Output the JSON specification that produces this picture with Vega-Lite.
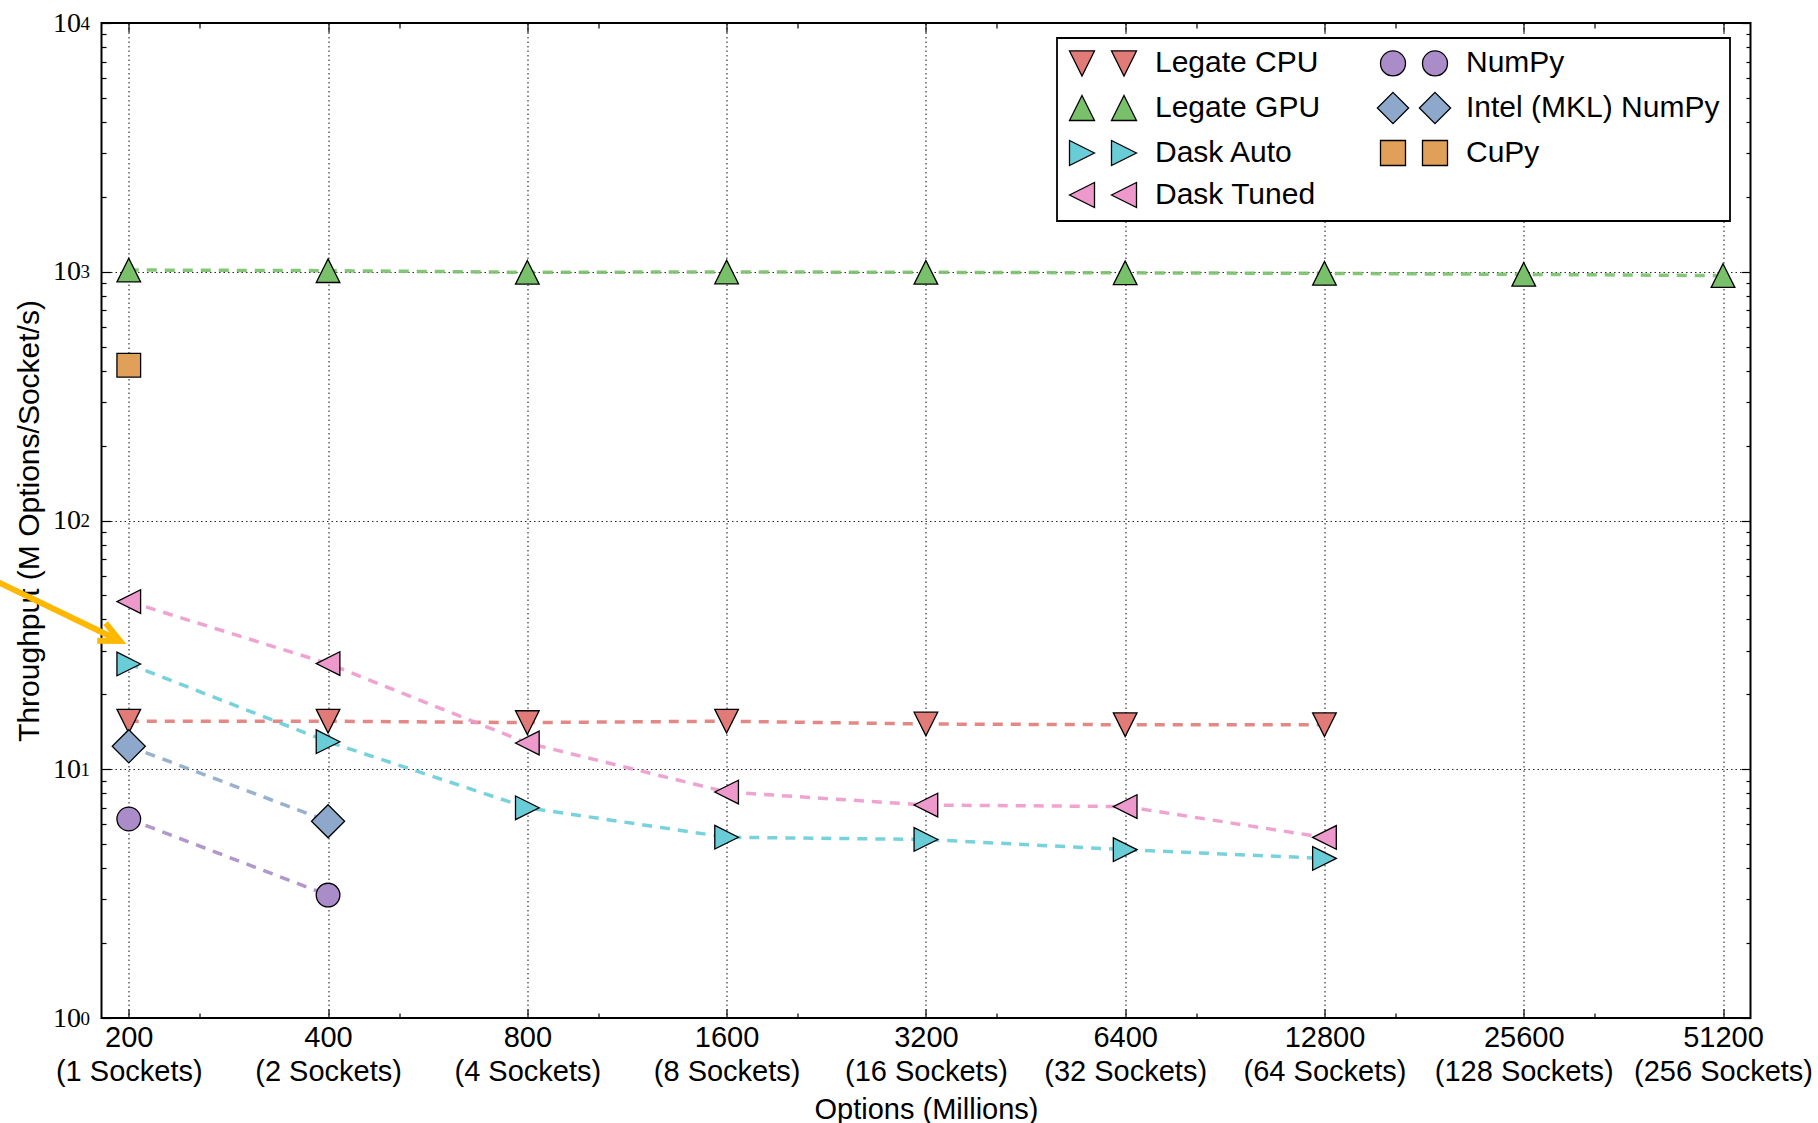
{
  "$schema": "https://vega.github.io/schema/vega-lite/v6.json",
  "width": 1649,
  "height": 995,
  "autosize": {"type": "none"},
  "padding": {"left": 101.5, "top": 23, "right": 67.5, "bottom": 105},
  "background": "white",
  "config": {
    "font": "Liberation Sans",
    "view": {"stroke": "black", "strokeWidth": 2},
    "axis": {
      "domain": false,
      "tickColor": "black",
      "tickWidth": 1.2,
      "gridColor": "black",
      "gridDash": [1.5, 3],
      "gridWidth": 1.1,
      "gridOpacity": 0.85,
      "labelColor": "black",
      "titleColor": "black",
      "labelFlush": false,
      "labelOverlap": false,
      "labelBound": false
    }
  },
  "datasets": {
    "main": [
      {"series": "Legate CPU", "options": 200, "throughput": 15.6},
      {"series": "Legate CPU", "options": 400, "throughput": 15.6},
      {"series": "Legate CPU", "options": 800, "throughput": 15.4},
      {"series": "Legate CPU", "options": 1600, "throughput": 15.6},
      {"series": "Legate CPU", "options": 3200, "throughput": 15.2},
      {"series": "Legate CPU", "options": 6400, "throughput": 15.1},
      {"series": "Legate CPU", "options": 12800, "throughput": 15.1},
      {"series": "Legate GPU", "options": 200, "throughput": 1016},
      {"series": "Legate GPU", "options": 400, "throughput": 1010},
      {"series": "Legate GPU", "options": 800, "throughput": 995},
      {"series": "Legate GPU", "options": 1600, "throughput": 998},
      {"series": "Legate GPU", "options": 3200, "throughput": 995},
      {"series": "Legate GPU", "options": 6400, "throughput": 990},
      {"series": "Legate GPU", "options": 12800, "throughput": 985},
      {"series": "Legate GPU", "options": 25600, "throughput": 976},
      {"series": "Legate GPU", "options": 51200, "throughput": 965},
      {"series": "Dask Auto", "options": 200, "throughput": 26.5},
      {"series": "Dask Auto", "options": 400, "throughput": 12.9},
      {"series": "Dask Auto", "options": 800, "throughput": 7.0},
      {"series": "Dask Auto", "options": 1600, "throughput": 5.33},
      {"series": "Dask Auto", "options": 3200, "throughput": 5.22},
      {"series": "Dask Auto", "options": 6400, "throughput": 4.75},
      {"series": "Dask Auto", "options": 12800, "throughput": 4.38},
      {"series": "Dask Tuned", "options": 200, "throughput": 47.2},
      {"series": "Dask Tuned", "options": 400, "throughput": 26.6},
      {"series": "Dask Tuned", "options": 800, "throughput": 12.75},
      {"series": "Dask Tuned", "options": 1600, "throughput": 8.1},
      {"series": "Dask Tuned", "options": 3200, "throughput": 7.18},
      {"series": "Dask Tuned", "options": 6400, "throughput": 7.08},
      {"series": "Dask Tuned", "options": 12800, "throughput": 5.32},
      {"series": "NumPy", "options": 200, "throughput": 6.31},
      {"series": "NumPy", "options": 400, "throughput": 3.12},
      {"series": "Intel (MKL) NumPy", "options": 200, "throughput": 12.37},
      {"series": "Intel (MKL) NumPy", "options": 400, "throughput": 6.18},
      {"series": "CuPy", "options": 200, "throughput": 421}
    ],
    "arrow": [
      {"x": 123.3, "y": 58.7, "x2": 194, "y2": 32.8}
    ]
  },
  "resolve": {"axis": {"x": "independent", "y": "independent"}},
  "layer": [
    {
      "data": {"name": "main"},
      "mark": {"type": "line", "strokeDash": [10, 8], "strokeWidth": 3.5, "opacity": 0.9},
      "encoding": {
        "x": {
          "field": "options", "type": "quantitative",
          "scale": {"type": "log", "domain": [181.9, 56336], "nice": false},
          "axis": {
            "orient": "bottom",
            "values": [200, 400, 800, 1600, 3200, 6400, 12800, 25600, 51200],
            "labelExpr": "[format(datum.value, 'd'), '(' + format(datum.value / 200, 'd') + ' Sockets)']",
            "labelFontSize": 29,
            "labelLineHeight": 34,
            "labelPadding": 5,
            "ticks": false,
            "grid": true,
            "title": "Options (Millions)",
            "titleFontSize": 29,
            "titleFontWeight": "normal",
            "titlePadding": 9
          }
        },
        "y": {
          "field": "throughput", "type": "quantitative",
          "scale": {"type": "log", "domain": [1, 10000], "nice": false},
          "axis": {
            "orient": "left",
            "values": [1, 10, 100, 1000, 10000],
            "labelExpr": "'10'",
            "labelFont": "Liberation Serif",
            "labelFontSize": 28,
            "labelPadding": 21,
            "ticks": false,
            "grid": true,
            "title": "Throughput (M Options/Socket/s)",
            "titleFontSize": 30,
            "titleFontWeight": "normal",
            "titlePadding": 8
          }
        },
        "stroke": {
          "field": "series", "type": "nominal",
          "scale": {
            "domain": ["Legate CPU", "NumPy", "Legate GPU", "Intel (MKL) NumPy", "Dask Auto", "CuPy", "Dask Tuned"],
            "range": ["#E17B78", "#AA8CC8", "#78C069", "#8DA8CA", "#69CDD8", "#E0A05A", "#ED99CB"]
          },
          "legend": null
        }
      }
    },
    {
      "data": {"name": "main"},
      "mark": {"type": "point", "filled": true, "stroke": "black", "strokeWidth": 1.3, "size": 560, "opacity": 1},
      "encoding": {
        "x": {
          "field": "options", "type": "quantitative",
          "scale": {"type": "log", "domain": [181.9, 56336], "nice": false},
          "axis": {
            "orient": "bottom",
            "values": [200, 400, 800, 1600, 3200, 6400, 12800, 25600, 51200],
            "labels": false, "grid": false, "ticks": true, "tickSize": -9, "title": null
          }
        },
        "y": {
          "field": "throughput", "type": "quantitative",
          "scale": {"type": "log", "domain": [1, 10000], "nice": false},
          "axis": {
            "orient": "left",
            "values": [1, 10, 100, 1000, 10000],
            "labelExpr": "'' + round(log(datum.value) / LN10)",
            "labelFont": "Liberation Serif",
            "labelFontSize": 19,
            "labelPadding": 12,
            "labelDy": -10,
            "ticks": false, "grid": false, "title": null
          }
        },
        "color": {
          "field": "series", "type": "nominal",
          "scale": {
            "domain": ["Legate CPU", "Legate GPU", "Dask Auto", "Dask Tuned", "NumPy", "Intel (MKL) NumPy", "CuPy"],
            "range": ["#E17B78", "#78C069", "#69CDD8", "#ED99CB", "#AA8CC8", "#8DA8CA", "#E0A05A"]
          },
          "legend": {
            "orient": "none",
            "legendX": 955.5,
            "legendY": 15,
            "direction": "vertical",
            "columns": 2,
            "title": null,
            "strokeColor": "black",
            "fillColor": "white",
            "padding": 10,
            "labelFont": "Liberation Sans",
            "labelFontSize": 30,
            "labelColor": "black",
            "labelLimit": 500,
            "symbolSize": 625,
            "symbolStrokeColor": "black",
            "symbolStrokeWidth": 1.3,
            "labelOffset": 58,
            "rowPadding": 10,
            "columnPadding": 53,
            "encoding": {
              "legend": {
                "strokeWidth": {"value": 1.8}
              },
              "symbols": {
                "shape": {"value": {"expr": "datum.value === 'Legate CPU' ? 'M-1,-1L1,-1L0,1Z M2.36,-1L4.36,-1L3.36,1Z' : datum.value === 'Legate GPU' ? 'M0,-1L1,1L-1,1Z M3.36,-1L4.36,1L2.36,1Z' : datum.value === 'Dask Auto' ? 'M1,0L-1,-1L-1,1Z M4.36,0L2.36,-1L2.36,1Z' : datum.value === 'Dask Tuned' ? 'M-1,0L1,-1L1,1Z M2.36,0L4.36,-1L4.36,1Z' : datum.value === 'NumPy' ? 'M1,0A1,1 0 1,1 -1,0A1,1 0 1,1 1,0Z M4.36,0A1,1 0 1,1 2.36,0A1,1 0 1,1 4.36,0Z' : datum.value === 'Intel (MKL) NumPy' ? 'M0,-1.25L1.25,0L0,1.25L-1.25,0Z M3.36,-1.25L4.61,0L3.36,1.25L2.11,0Z' : 'M-1,-1H1V1H-1Z M2.36,-1H4.36V1H2.36Z'"}},
                "size": {"value": 625},
                "stroke": {"value": "black"},
                "strokeWidth": {"value": 1.3}
              }
            }
          }
        },
        "shape": {
          "field": "series", "type": "nominal",
          "scale": {
            "domain": ["Legate CPU", "NumPy", "Legate GPU", "Intel (MKL) NumPy", "Dask Auto", "CuPy", "Dask Tuned"],
            "range": ["M-1,-1L1,-1L0,1Z", "circle", "M0,-1L1,1L-1,1Z", "M0,-1.4L1.4,0L0,1.4L-1.4,0Z", "M1,0L-1,-1L-1,1Z", "square", "M-1,0L1,-1L1,1Z"]
          },
          "legend": null
        }
      }
    },
    {
      "data": {"name": "main"},
      "mark": {"type": "point", "opacity": 0},
      "encoding": {
        "x": {
          "field": "options", "type": "quantitative",
          "scale": {"type": "log", "domain": [181.9, 56336], "nice": false},
          "axis": {
            "orient": "bottom",
            "values": [256, 512, 1024, 2048, 4096, 8192, 16384, 32768],
            "labels": false, "grid": false, "ticks": true, "tickSize": -5, "title": null
          }
        },
        "y": {
          "field": "throughput", "type": "quantitative",
          "scale": {"type": "log", "domain": [1, 10000], "nice": false},
          "axis": {
            "orient": "left",
            "values": [1, 10, 100, 1000, 10000],
            "labels": false, "grid": false, "ticks": true, "tickSize": -9, "title": null
          }
        }
      }
    },
    {
      "data": {"name": "main"},
      "mark": {"type": "point", "opacity": 0},
      "encoding": {
        "x": {
          "field": "options", "type": "quantitative",
          "scale": {"type": "log", "domain": [181.9, 56336], "nice": false},
          "axis": {
            "orient": "top",
            "values": [200, 400, 800, 1600, 3200, 6400, 12800, 25600, 51200],
            "labels": false, "grid": false, "ticks": true, "tickSize": -9, "title": null
          }
        },
        "y": {
          "field": "throughput", "type": "quantitative",
          "scale": {"type": "log", "domain": [1, 10000], "nice": false},
          "axis": {
            "orient": "left",
            "values": [2, 3, 4, 5, 6, 7, 8, 9, 20, 30, 40, 50, 60, 70, 80, 90, 200, 300, 400, 500, 600, 700, 800, 900, 2000, 3000, 4000, 5000, 6000, 7000, 8000, 9000],
            "labels": false, "grid": false, "ticks": true, "tickSize": -4.5, "title": null
          }
        }
      }
    },
    {
      "data": {"name": "main"},
      "mark": {"type": "point", "opacity": 0},
      "encoding": {
        "x": {
          "field": "options", "type": "quantitative",
          "scale": {"type": "log", "domain": [181.9, 56336], "nice": false},
          "axis": {
            "orient": "top",
            "values": [256, 512, 1024, 2048, 4096, 8192, 16384, 32768],
            "labels": false, "grid": false, "ticks": true, "tickSize": -5, "title": null
          }
        },
        "y": {
          "field": "throughput", "type": "quantitative",
          "scale": {"type": "log", "domain": [1, 10000], "nice": false},
          "axis": {
            "orient": "right",
            "values": [1, 10, 100, 1000, 10000],
            "labels": false, "grid": false, "ticks": true, "tickSize": -9, "title": null
          }
        }
      }
    },
    {
      "data": {"name": "main"},
      "mark": {"type": "point", "opacity": 0},
      "encoding": {
        "x": {
          "field": "options", "type": "quantitative",
          "scale": {"type": "log", "domain": [181.9, 56336], "nice": false},
          "axis": null
        },
        "y": {
          "field": "throughput", "type": "quantitative",
          "scale": {"type": "log", "domain": [1, 10000], "nice": false},
          "axis": {
            "orient": "right",
            "values": [2, 3, 4, 5, 6, 7, 8, 9, 20, 30, 40, 50, 60, 70, 80, 90, 200, 300, 400, 500, 600, 700, 800, 900, 2000, 3000, 4000, 5000, 6000, 7000, 8000, 9000],
            "labels": false, "grid": false, "ticks": true, "tickSize": -4.5, "title": null
          }
        }
      }
    },
    {
      "data": {"name": "arrow"},
      "mark": {"type": "rule", "color": "#FFB800", "strokeWidth": 6, "clip": false},
      "encoding": {
        "x": {"field": "x", "type": "quantitative", "scale": {"type": "log", "domain": [181.9, 56336], "nice": false}, "axis": null},
        "y": {"field": "y", "type": "quantitative", "scale": {"type": "log", "domain": [1, 10000], "nice": false}, "axis": null},
        "x2": {"field": "x2"},
        "y2": {"field": "y2"}
      }
    },
    {
      "data": {"name": "arrow"},
      "mark": {"type": "point", "shape": "M-1,-0.47L0,0L-1,0.47", "filled": false, "stroke": "#FFB800", "strokeWidth": 6, "size": 1700, "angle": 25.8, "opacity": 1, "clip": false},
      "encoding": {
        "x": {"field": "x2", "type": "quantitative", "scale": {"type": "log", "domain": [181.9, 56336], "nice": false}, "axis": null},
        "y": {"field": "y2", "type": "quantitative", "scale": {"type": "log", "domain": [1, 10000], "nice": false}, "axis": null}
      }
    }
  ]
}
